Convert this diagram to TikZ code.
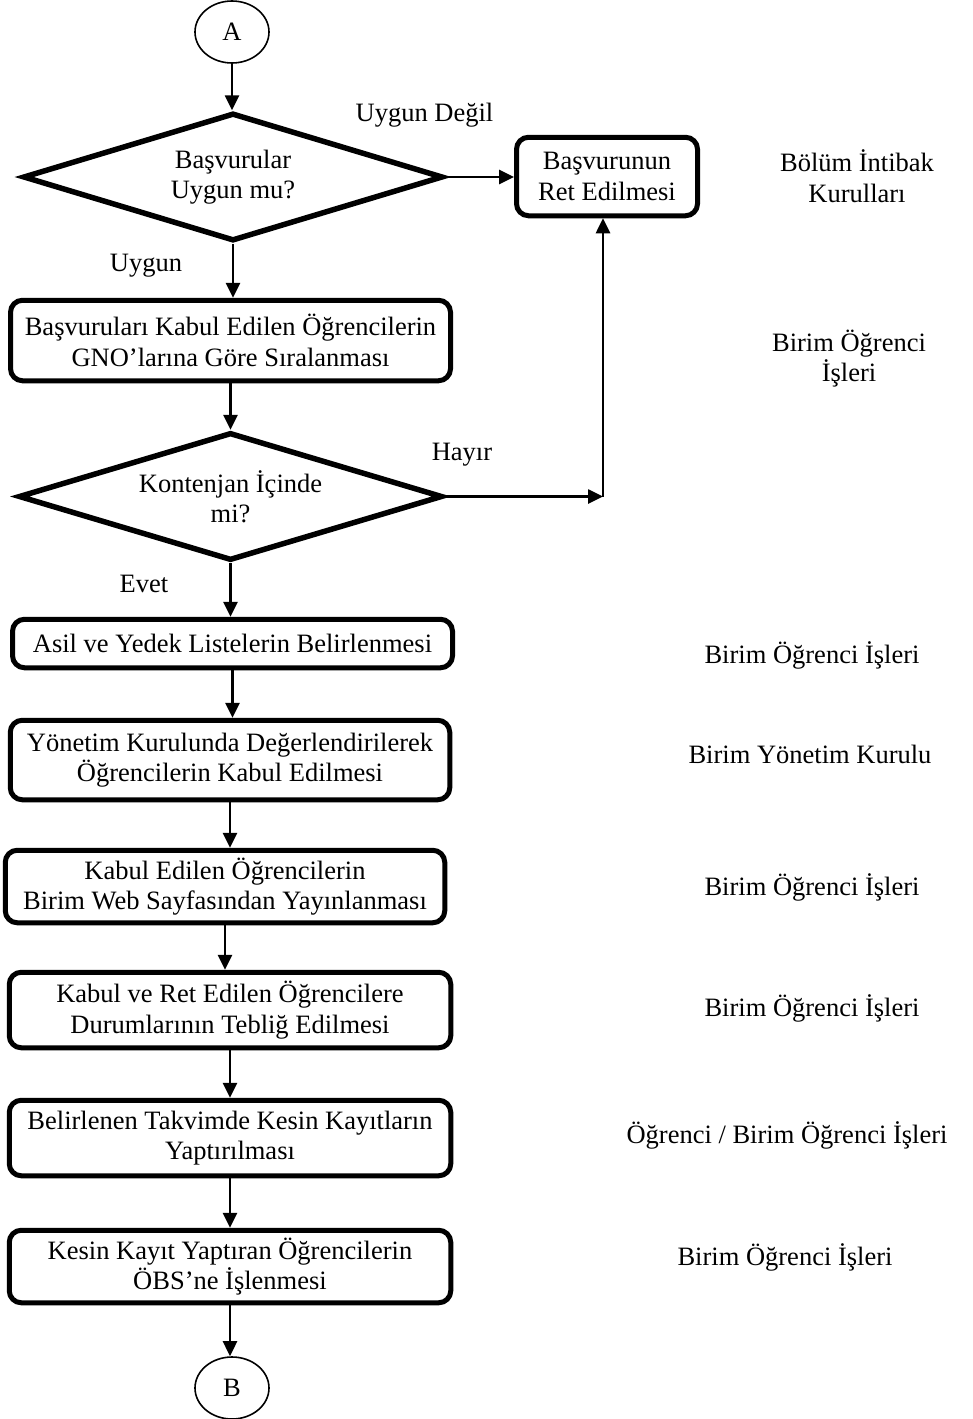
\documentclass[tikz,border=0pt]{standalone}
\usepackage{fontspec}
\setmainfont{Liberation Serif}
\usetikzlibrary{shapes.geometric,arrows.meta}
\begin{document}
\begin{tikzpicture}[x=1pt,y=-1pt,
  every node/.style={font=\fontsize{26.5}{30.5}\selectfont, inner sep=0pt},
  proc/.style={draw, line width=5pt, rounded corners=12pt, align=center},
  decis/.style={draw, diamond, aspect=3.2, line width=5.5pt, line join=miter, align=center},
  conn/.style={draw, ellipse, line width=1.6pt, minimum width=74pt, minimum height=62pt},
  arr/.style={line width=2.6pt, -{Triangle[length=15pt,width=14pt]}},
  lbl/.style={align=center}
]
\useasboundingbox (0,0) rectangle (973,1419);

% main flow
\node[conn] (A) at (232,32) {A};
\node[decis, minimum width=420pt, minimum height=128pt] (d1) at (233,177) {Başvurular\\Uygun mu?};
\node[proc, minimum width=181pt, minimum height=78.5pt] (ret) at (607,176.5) {Başvurunun\\Ret Edilmesi};
\node[proc, minimum width=440pt, minimum height=80.5pt] (b2) at (230.5,340.5) {Başvuruları Kabul Edilen Öğrencilerin\\GNO’larına Göre Sıralanması};
\node[decis, minimum width=424pt, minimum height=128pt] (d2) at (230.5,496.5) {Kontenjan İçinde\\mi?};
\node[proc, minimum width=440pt, minimum height=48.5pt] (b3) at (232.5,643.5) {Asil ve Yedek Listelerin Belirlenmesi};
\node[proc, minimum width=439.5pt, minimum height=79.5pt] (b4) at (230,760) {Yönetim Kurulunda Değerlendirilerek\\Öğrencilerin Kabul Edilmesi};
\node[proc, minimum width=439.5pt, minimum height=72.5pt] (b5) at (225,886.5) {Kabul Edilen Öğrencilerin\\Birim Web Sayfasından Yayınlanması};
\node[proc, minimum width=441.5pt, minimum height=75.5pt] (b6) at (230,1010) {Kabul ve Ret Edilen Öğrencilere\\Durumlarının Tebliğ Edilmesi};
\node[proc, minimum width=441.5pt, minimum height=75.5pt] (b7) at (230,1138) {Belirlenen Takvimde Kesin Kayıtların\\Yaptırılması};
\node[proc, minimum width=441.5pt, minimum height=72.5pt] (b8) at (230,1266.5) {Kesin Kayıt Yaptıran Öğrencilerin\\ÖBS’ne İşlenmesi};
\node[conn] (B) at (232,1388) {B};

% branch labels
\node[anchor=base] (lud) at (424.5,121) {Uygun Değil};
\node[anchor=base] (lu) at (146,271) {Uygun};
\node[anchor=base] (lh) at (462,460) {Hayır};
\node[anchor=base] (le) at (144,592) {Evet};

% responsibility labels
\node[lbl] (r1) at (857,176) {Bölüm İntibak\\Kurulları};
\node[lbl] (r2) at (849,358.5) {Birim Öğrenci\\İşleri};
\node[anchor=base] (r3) at (812,663) {Birim Öğrenci İşleri};
\node[anchor=base] (r4) at (810,763) {Birim Yönetim Kurulu};
\node[anchor=base] (r5) at (812,895) {Birim Öğrenci İşleri};
\node[anchor=base] (r6) at (812,1016) {Birim Öğrenci İşleri};
\node[anchor=base] (r7) at (787,1143) {Öğrenci / Birim Öğrenci İşleri};
\node[anchor=base] (r8) at (785,1265) {Birim Öğrenci İşleri};

% connectors
\coordinate (corner) at (603,496.5);
\draw[arr] (A.south) -- (A.south |- d1.north);
\draw[arr] (d1.east) -- (d1.east -| ret.west);
\draw[arr] (d1.south) -- (d1.south |- b2.north);
\draw[arr] (b2.south) -- (b2.south |- d2.north);
\draw[arr] (d2.east) -- (corner);
\draw[arr] (corner) -- (corner |- ret.south);
\draw[arr] (d2.south) -- (d2.south |- b3.north);
\draw[arr] (b3.south) -- (b3.south |- b4.north);
\draw[arr] (b4.south) -- (b4.south |- b5.north);
\draw[arr] (b5.south) -- (b5.south |- b6.north);
\draw[arr] (b6.south) -- (b6.south |- b7.north);
\draw[arr] (b7.south) -- (b7.south |- b8.north);
\draw[arr] (b8.south) -- (b8.south |- B.north);
\end{tikzpicture}
\end{document}
